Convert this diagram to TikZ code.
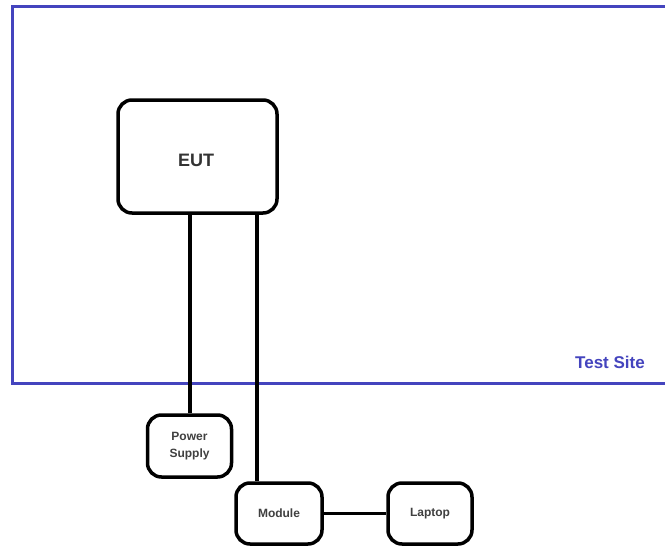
\documentclass[tikz,border=0pt]{standalone}
\usepackage{fontspec}
\setmainfont{Liberation Sans}
\definecolor{siteblue}{RGB}{68,68,190}
\begin{document}
\begin{tikzpicture}[x=1pt,y=-1pt,
  box/.style={draw=black,line width=3.5pt,rounded corners=14pt,fill=white,inner sep=0pt},
  wire/.style={draw=black,line width=3.5pt},
  lbl/.style={font=\bfseries\fontsize{12}{13}\selectfont,text=black!75,align=center}]
\clip (0,0) rectangle (665,546);
\fill[white] (0,0) rectangle (665,546);
\draw[siteblue,line width=3pt] (700,6.5) -- (12,6.5) -- (12,383) -- (700,383);
\node[font=\bfseries\fontsize{17}{19}\selectfont,text=siteblue] (site) at (610,362) {Test Site};
\node[box,minimum width=159pt,minimum height=113pt] (eut) at (197.5,156.5) {};
\node[box,minimum width=84pt,minimum height=62pt] (ps) at (189.5,446) {};
\node[box,minimum width=86pt,minimum height=61pt] (mod) at (279,513.5) {};
\node[box,minimum width=84pt,minimum height=61pt] (lap) at (430,513.5) {};
\draw[wire] (eut.south -| 190,0) -- (ps.north -| 190,0);
\draw[wire] (eut.south -| 257,0) -- (mod.north -| 257,0);
\draw[wire] (mod.east) -- (lap.west);
\node[font=\bfseries\fontsize{18}{20}\selectfont,text=black!80] (eutl) at (196,160) {EUT};
\node[lbl,font=\bfseries\fontsize{12}{17}\selectfont] (psl) at (ps.center) {Power\\Supply};
\node[lbl] (modl) at (mod.center) {Module};
\node[lbl] (lapl) at (lap.center) {Laptop};
\end{tikzpicture}
\end{document}
